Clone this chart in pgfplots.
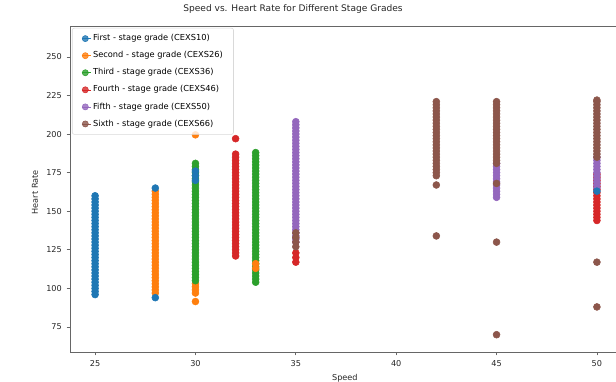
\documentclass[border=0pt]{standalone}
\usepackage{fontspec}
\setmainfont{DejaVu Sans}
\usepackage{pgfplots}
\pgfplotsset{compat=1.18}
\definecolor{c0}{HTML}{1F77B4}
\definecolor{c1}{HTML}{FF7F0E}
\definecolor{c2}{HTML}{2CA02C}
\definecolor{c3}{HTML}{D62728}
\definecolor{c4}{HTML}{9467BD}
\definecolor{c5}{HTML}{8C564B}
\pgfplotsset{dot/.style={only marks, mark=*, mark size=2.6pt, color=#1, mark options={draw=#1, fill=#1}}}
\begin{document}
\begin{tikzpicture}[x=1pt,y=1pt]
\begin{axis}[
  at={(52.5pt,21.75pt)}, anchor=south west, scale only axis,
  width=414pt, height=244.5pt,
  xmin=23.75, xmax=51.25, ymin=58.8, ymax=270,
  xtick={25,30,35,40,45,50}, ytick={75,100,125,150,175,200,225,250},
  tick align=outside, xtick pos=bottom, ytick pos=left,
  major tick length=2.6pt,
  tick style={black!60, line width=0.5pt},
  axis line style={black!60, line width=0.6pt},
  /pgf/number format/assume math mode=true,
  tick label style={font=\fontsize{6.1}{7}\selectfont, text=black!85},
  xticklabel style={yshift=-0.5pt},
  title={Speed vs. Heart Rate for Different Stage Grades},
  title style={at={(axis description cs:0.404,1)}, anchor=center, yshift=6.9pt, font=\fontsize{6.8}{8}\selectfont, text=black!85},
  xlabel={Speed}, ylabel={Heart Rate},
  xlabel style={at={(axis description cs:0.498,0)}, anchor=center, yshift=-19.5pt, font=\fontsize{6.1}{7}\selectfont, text=black!85},
  ylabel style={at={(axis description cs:-0.0634,0.49)}, anchor=center, font=\fontsize{6.1}{7}\selectfont, text=black!85},
  legend cell align=left,
  legend image code/.code={\path (-2.6pt,0pt) -- (4.6pt,0pt); \draw[#1, mark size=2.3pt] plot coordinates {(0pt,0pt)};},
  legend style={at={(axis description cs:0.0036,0.994)}, anchor=north west,
    draw=black!15, rounded corners=1.5pt, fill=white, fill opacity=0.8, text opacity=1,
    font=\fontsize{6.2}{7}\selectfont, row sep=5.2pt, inner xsep=7pt, inner ysep=4pt,
    nodes={inner sep=1pt, text height=4.4pt, text depth=1.2pt}},
]
% First
\addplot[dot=c0] coordinates {
(25,96)(25,98)(25,100)(25,102)(25,104)(25,106)(25,108)(25,110)(25,112)(25,114)(25,116)
(25,118)(25,120)(25,122)(25,124)(25,126)(25,128)(25,130)(25,132)(25,134)(25,136)(25,138)
(25,140)(25,142)(25,144)(25,146)(25,148)(25,150)(25,152)(25,154)(25,156)(25,158)(25,160)};
\addlegendentry{First - stage grade (CEXS10)}
% Second
\addplot[dot=c1] coordinates {
(28,97)(28,99)(28,101)(28,103)(28,105)(28,107)(28,109)(28,111)(28,113)(28,115)(28,117)
(28,119)(28,121)(28,123)(28,125)(28,127)(28,129)(28,131)(28,133)(28,135)(28,137)(28,139)
(28,141)(28,143)(28,145)(28,147)(28,149)(28,151)(28,153)(28,155)(28,157)(28,159)(28,161)(28,163)
(30,91.5)(30,97)(30,99)(30,101)(30,103)(30,199.5)};
\addlegendentry{Second - stage grade (CEXS26)}
% Third
\addplot[dot=c2] coordinates {
(30,105)(30,107)(30,109)(30,111)(30,113)(30,115)(30,117)(30,119)(30,121)(30,123)(30,125)
(30,127)(30,129)(30,131)(30,133)(30,135)(30,137)(30,139)(30,141)(30,143)(30,145)(30,147)
(30,149)(30,151)(30,153)(30,155)(30,157)(30,159)(30,161)(30,163)(30,165)(30,167)(30,169)
(30,171)(30,173)(30,175)(30,177)(30,179)(30,181)
(33,104)(33,106)(33,108)(33,110)(33,112)(33,114)(33,116)(33,118)(33,120)(33,122)(33,124)
(33,126)(33,128)(33,130)(33,132)(33,134)(33,136)(33,138)(33,140)(33,142)(33,144)(33,146)
(33,148)(33,150)(33,152)(33,154)(33,156)(33,158)(33,160)(33,162)(33,164)(33,166)(33,168)
(33,170)(33,172)(33,174)(33,176)(33,178)(33,180)(33,182)(33,184)(33,186)(33,188)};
\addlegendentry{Third - stage grade (CEXS36)}
% Fourth
\addplot[dot=c3] coordinates {
(32,121)(32,123)(32,125)(32,127)(32,129)(32,131)(32,133)(32,135)(32,137)(32,139)(32,141)
(32,143)(32,145)(32,147)(32,149)(32,151)(32,153)(32,155)(32,157)(32,159)(32,161)(32,163)
(32,165)(32,167)(32,169)(32,171)(32,173)(32,175)(32,177)(32,179)(32,181)(32,183)(32,185)(32,187)
(32,197)
(35,117)(35,120)(35,123)
(50,144)(50,146)(50,148)(50,150)(50,152)(50,154)(50,156)(50,158)(50,160)(50,162)(50,164)
(50,166)(50,168)(50,170)(50,172)(50,174)};
\addlegendentry{Fourth - stage grade (CEXS46)}
% Fifth
\addplot[dot=c4] coordinates {
(35,130)(35,132)(35,134)(35,136)(35,138)(35,140)(35,142)(35,144)(35,146)(35,148)(35,150)
(35,152)(35,154)(35,156)(35,158)(35,160)(35,162)(35,164)(35,166)(35,168)(35,170)(35,172)
(35,174)(35,176)(35,178)(35,180)(35,182)(35,184)(35,186)(35,188)(35,190)(35,192)(35,194)
(35,196)(35,198)(35,200)(35,202)(35,204)(35,206)(35,208)
(45,159)(45,161)(45,163)(45,165)(45,167)(45,169)(45,171)(45,173)(45,175)(45,177)(45,179)(45,181)
(50,165)(50,167)(50,169)(50,171)(50,173)(50,175)(50,177)(50,179)(50,181)(50,183)(50,185)};
\addlegendentry{Fifth - stage grade (CEXS50)}
% Sixth
\addplot[dot=c5] coordinates {
(35,127)(35,130)(35,133)(35,136)
(42,134)(42,167)(42,173)(42,175)(42,177)(42,179)(42,181)(42,183)(42,185)(42,187)(42,189)
(42,191)(42,193)(42,195)(42,197)(42,199)(42,201)(42,203)(42,205)(42,207)(42,209)(42,211)
(42,213)(42,215)(42,217)(42,219)(42,221)
(45,70)(45,130)(45,168)(45,181)(45,183)(45,185)(45,187)(45,189)(45,191)(45,193)(45,195)
(45,197)(45,199)(45,201)(45,203)(45,205)(45,207)(45,209)(45,211)(45,213)(45,215)(45,217)
(45,219)(45,221)
(50,88)(50,117)(50,185)(50,187)(50,189)(50,191)(50,193)(50,195)(50,197)(50,199)(50,201)
(50,203)(50,205)(50,207)(50,209)(50,211)(50,213)(50,215)(50,217)(50,219)(50,221)(50,222)};
\addlegendentry{Sixth - stage grade (CEXS66)}
% points seen on top of later series
\addplot[dot=c0, forget plot] coordinates {(28,94)(28,165)(30,170)(30,173)(30,176)(50,163)};
\addplot[dot=c1, forget plot] coordinates {(33,113)(33,116)};
\end{axis}
\pgfresetboundingbox
\useasboundingbox (0,0) rectangle (462,285.75);
\end{tikzpicture}
\end{document}
